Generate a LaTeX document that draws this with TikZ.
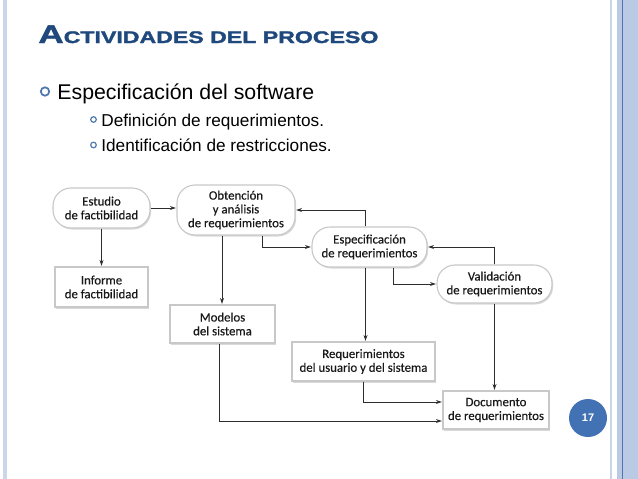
\documentclass[tikz,border=0pt]{standalone}
\usepackage{graphicx}
\usepackage{fontspec}
\setmainfont{Liberation Sans}
\newfontfamily\titlefont{Liberation Sans}[BoldFeatures={FakeBold=1.6}]
\newfontfamily\diagfont{Carlito}[FakeBold=0.4]
\usepackage{tikz}
\usetikzlibrary{arrows.meta,shadows}

\definecolor{titleblue}{RGB}{31,73,125}
\definecolor{ringblue}{RGB}{79,120,175}
\definecolor{bandblue}{RGB}{186,201,228}
\definecolor{bandline}{RGB}{84,114,172}
\definecolor{boxline}{RGB}{200,200,200}
\definecolor{arrowgray}{RGB}{45,45,45}
\definecolor{numblue}{RGB}{66,114,180}

\begin{document}
\begin{tikzpicture}[x=1pt,y=-1pt,->,>={Stealth[length=6pt,width=4pt]},shorten >=0.5pt,line width=0.8pt,
    every edge/.append style={arrowgray},
    act/.style={draw=boxline,fill=white,line width=1.1pt,rounded corners=18pt,
      drop shadow={shadow xshift=1.2pt,shadow yshift=-1.5pt,opacity=.3},
      align=center,inner sep=0pt,text=black!90,
      font=\diagfont\fontsize{12.8}{13.8}\selectfont},
    prod/.style={act,sharp corners},
    vh/.style={to path={|- (\tikztotarget) \tikztonodes}}]
  \useasboundingbox (0,0) rectangle (638,479);

  % slide frame
  \fill[bandblue!75] (3.3,0) rectangle (7.3,479);
  \fill[bandblue!80] (610,0) rectangle (612.3,479);
  \fill[bandblue] (616.7,0) rectangle (638,479);
  \fill[bandline] (621.7,0) rectangle (623,479);

  % title and bullets
  \node[anchor=base west,inner sep=0pt,text=titleblue,font=\titlefont\bfseries] (title) at (38,43)
    {\resizebox{340pt}{\height}{{\fontsize{25.5}{30}\selectfont A}\fontsize{16.8}{20}\selectfont CTIVIDADES DEL PROCESO}};
  \draw[-,ringblue,line width=1.8pt] (45,91.5) circle[radius=4.2pt];
  \draw[-,ringblue,line width=1.2pt] (93.5,119.5) circle[radius=2.8pt];
  \draw[-,ringblue,line width=1.2pt] (93.5,145) circle[radius=2.8pt];
  \node[anchor=base west,inner sep=0pt,font=\fontsize{21.3}{25}\selectfont] (spec) at (57,99)
    {Especificación del software};
  \node[anchor=base west,inner sep=0pt,font=\fontsize{17.2}{20}\selectfont] (defi) at (101,126)
    {Definición de requerimientos.};
  \node[anchor=base west,inner sep=0pt,font=\fontsize{17.2}{20}\selectfont] (iden) at (101,151)
    {Identificación de restricciones.};

  % process diagram
  \node[act,minimum width=97,minimum height=40] (est) at (101.5,208) {Estudio\\de factibilidad};
  \node[act,minimum width=118,minimum height=50] (obt) at (236,210) {Obtención\\y análisis\\de requerimientos};
  \node[act,minimum width=115,minimum height=40] (esp) at (369.5,247) {Especificación\\de requerimientos};
  \node[act,minimum width=115,minimum height=38] (val) at (494.5,284) {Validación\\de requerimientos};
  \node[prod,minimum width=93,minimum height=40] (inf) at (101.5,287) {Informe\\de factibilidad};
  \node[prod,minimum width=105,minimum height=38] (mod) at (222.5,324) {Modelos\\del sistema};
  \node[prod,minimum width=143,minimum height=39] (req) at (363.5,361.5) {Requerimientos\\del usuario y del sistema};
  \node[prod,minimum width=106,minimum height=38] (doc) at (496,410) {Documento\\de requerimientos};

  \path (est.east) edge (est.east -| obt.west)
        (est) edge (inf)
        ([xshift=-14pt]obt.south) edge ([xshift=-14pt]obt.south |- mod.north)
        ([xshift=26pt]obt.south) edge[vh] (esp)
        ([xshift=-4pt]esp.north) edge[vh] (obt)
        ([xshift=-4pt]esp.south) edge ([xshift=-4pt]esp.south |- req.north)
        ([xshift=24pt]esp.south) edge[vh] (val)
        (val.north) edge[vh] (esp)
        (val.south) edge (val.south |- doc.north)
        (req) edge[vh] ([yshift=8pt]doc.west)
        ([xshift=-3pt]mod.south) edge[vh] ([yshift=-11pt]doc.west);

  \node[circle,fill=numblue,minimum size=38pt,inner sep=0pt,text=white,
    font=\bfseries\fontsize{11}{13}\selectfont] (pnum) at (588,418) {17};
\end{tikzpicture}
\end{document}
